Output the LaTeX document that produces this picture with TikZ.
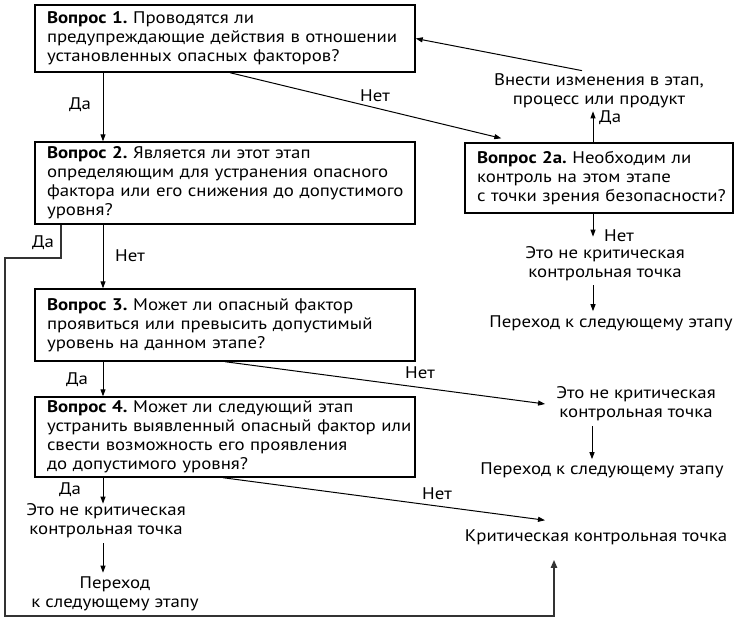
\documentclass[tikz,border=0pt]{standalone}
\usepackage{fontspec}
\setmainfont[FakeStretch=1.12, BoldFeatures={FakeStretch=1.12}]{PT Sans}
\usetikzlibrary{arrows.meta,calc}
\newcommand{\qline}[1]{\mbox{#1}}
\frenchspacing
\begin{document}
\begin{tikzpicture}[x=1pt,y=-1pt,
  fnt/.style={font=\fontsize{16.8}{19}\selectfont},
  qbox/.style={draw, line width=1.4pt, align=left, inner xsep=12pt, inner ysep=0pt, fnt},
  txt/.style={align=center, inner sep=1pt, fnt},
  lbl/.style={inner sep=1pt, fnt},
  arr/.style={-{Triangle[length=7pt,width=5pt]}, line width=1pt},
  loopline/.style={line width=2.2pt, draw=black!80}]
\useasboundingbox (0,0) rectangle (747,621);
\coordinate (cL) at (103,0);
\coordinate (cR) at (593,0);

% question boxes
\node[qbox, minimum width=380pt, minimum height=67pt, text width=356pt] (q1) at (225,38.5)
  {\qline{\textbf{Вопрос 1.} Проводятся ли}\\\qline{предупреждающие действия в отношении}\\\qline{установленных опасных факторов?}};
\node[qbox, minimum width=380pt, minimum height=82pt, text width=356pt] (q2) at (225,183)
  {\raisebox{-5pt}{\parbox{356pt}{\qline{\textbf{Вопрос 2.} Является ли этот этап}\\\qline{определяющим для устранения опасного}\\\qline{фактора или его снижения до допустимого}\\\qline{уровня?}}}};
\node[qbox, minimum width=380pt, minimum height=72pt, text width=356pt] (q3) at (225,325)
  {\qline{\textbf{Вопрос 3.} Может ли опасный фактор}\\\qline{проявиться или превысить допустимый}\\\qline{уровень на данном этапе?}};
\node[qbox, minimum width=380pt, minimum height=80pt, text width=356pt] (q4) at (225,437)
  {\qline{\textbf{Вопрос 4.} Может ли следующий этап}\\\qline{устранить выявленный опасный фактор или}\\\qline{свести возможность его проявления}\\\qline{до допустимого уровня?}};
\node[qbox, minimum width=268pt, minimum height=70pt, text width=244pt] (q2a) at (599,178)
  {\qline{\textbf{Вопрос 2а.} Необходим ли}\\\qline{контроль на этом этапе}\\\qline{с точки зрения безопасности?}};

% result texts
\node[txt] (vn) at (599,91) {Внести изменения в этап,\\процесс или продукт};
\node[txt] (ncp1) at (605,264) {Это не критическая\\контрольная точка};
\node[txt] (pn1) at (611,323) {Переход к следующему этапу};
\node[txt] (ncp2) at (636,404) {Это не критическая\\контрольная точка};
\node[txt] (pn2) at (602,470) {Переход к следующему этапу};
\node[txt] (kcp) at (596,537) {Критическая контрольная точка};
\node[txt] (ncp3) at (106,521) {Это не критическая\\контрольная точка};
\node[txt] (pn3) at (115,594) {Переход\\к следующему этапу};

% connectors
\draw[arr] (q1.south -| cL) -- (q2.north -| cL);
\draw[arr] ([xshift=5pt]q1.south) -- ([xshift=37pt,yshift=4pt]q2a.north west);
\draw[arr] (q2a.north -| cR) -- ([yshift=-2pt]vn.south -| cR);
\draw[arr] ([xshift=-17pt,yshift=2pt]vn.north) -- (q1.east);
\draw[arr] (q2a.south -| cR) -- ([yshift=9pt]ncp1.north -| cR);
\draw[arr] ([yshift=-3pt]ncp1.south -| cR) -- ([yshift=3pt]pn1.north -| cR);
\draw[arr] (q2.south -| cL) -- (q3.north -| cL);
\draw[arr] (q3.south -| cL) -- (q4.north -| cL);
\draw[arr] ([xshift=0pt]q3.south) -- ([xshift=-10pt,yshift=0pt]ncp2.west);
\draw[arr] ([xshift=-44pt,yshift=-4pt]ncp2.south) -- ([xshift=-10pt,yshift=2pt]pn2.north);
\draw[arr] ([xshift=-2pt]q4.south) -- ([xshift=-51pt,yshift=8pt]kcp.north);
\draw[arr] (q4.south -| cL) -- ([yshift=-1pt]ncp3.north -| cL);
\draw[arr] ([yshift=-4pt]ncp3.south -| cL) -- ([yshift=3pt]pn3.north -| cL);
\draw[loopline, -{Triangle[length=8pt,width=6pt]}] ([xshift=27pt]q2.south west) |- (5,258) |- (554,616) -- ([xshift=-42pt,yshift=-14pt]kcp.south);

% labels
\node[lbl] (l1) at (80,105) {Да};
\node[lbl] (l2) at (375,96) {Нет};
\node[lbl, anchor=west] (l3) at (598,118) {Да};
\node[lbl, anchor=west] (l4) at (603,236) {Нет};
\node[lbl] (l5) at (43,243) {Да};
\node[lbl] (l6) at (130,256) {Нет};
\node[lbl] (l7) at (77,380) {Да};
\node[lbl] (l8) at (420,373) {Нет};
\node[lbl] (l9) at (70,490) {Да};
\node[lbl] (l10) at (437,494) {Нет};
\end{tikzpicture}
\end{document}
